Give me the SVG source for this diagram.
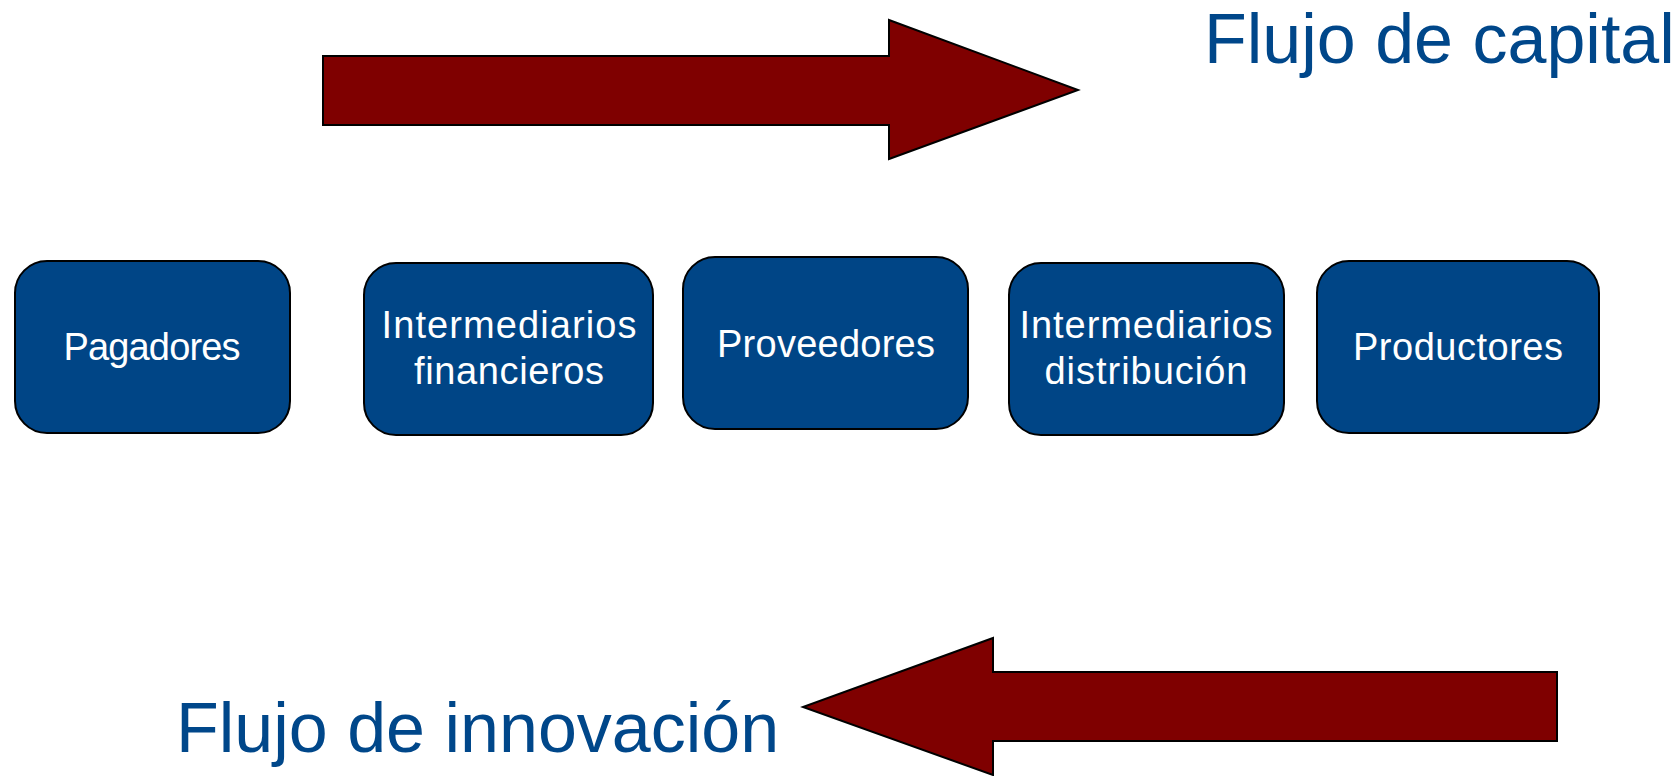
<svg xmlns="http://www.w3.org/2000/svg" width="1676" height="776" viewBox="0 0 1676 776">
<style>
.box{fill:#004586;stroke:#000;stroke-width:2}
.lbl{font-family:"Liberation Sans",Arial,sans-serif;font-size:38px;fill:#fff;text-anchor:middle}
.arrow{fill:#7f0000;stroke:#000;stroke-width:2}
.title{font-family:"Liberation Sans",Arial,sans-serif;font-size:70px;fill:#00478a}
</style>
<rect width="1676" height="776" fill="#fff"/>
<g id="connectors">
<polygon id="arrow-capital" class="arrow" points="323,56 889,56 889,20 1078,90 889,159 889,125 323,125"/>
<polygon id="arrow-innovacion" class="arrow" points="1557,672 993,672 993,638 803,707 993,775 993,741 1557,741"/>
</g>
<g id="title-capital"><text class="title" x="1204" y="63">Flujo de capital</text></g>
<g id="title-innovacion"><text class="title" x="176" y="752">Flujo de innovación</text></g>
<g id="n1"><rect class="box" x="15" y="261" width="275" height="172" rx="32"/><text class="lbl" x="152" y="360" textLength="177">Pagadores</text></g>
<g id="n2"><rect class="box" x="364" y="263" width="289" height="172" rx="32"/><text class="lbl" x="509" y="338" textLength="255">Intermediarios</text><text class="lbl" x="509" y="384" textLength="190">financieros</text></g>
<g id="n3"><rect class="box" x="683" y="257" width="285" height="172" rx="32"/><text class="lbl" x="826" y="357" textLength="218">Proveedores</text></g>
<g id="n4"><rect class="box" x="1009" y="263" width="275" height="172" rx="32"/><text class="lbl" x="1146" y="338" textLength="253">Intermediarios</text><text class="lbl" x="1146" y="384" textLength="203">distribución</text></g>
<g id="n5"><rect class="box" x="1317" y="261" width="282" height="172" rx="32"/><text class="lbl" x="1458" y="360" textLength="210">Productores</text></g>
</svg>
